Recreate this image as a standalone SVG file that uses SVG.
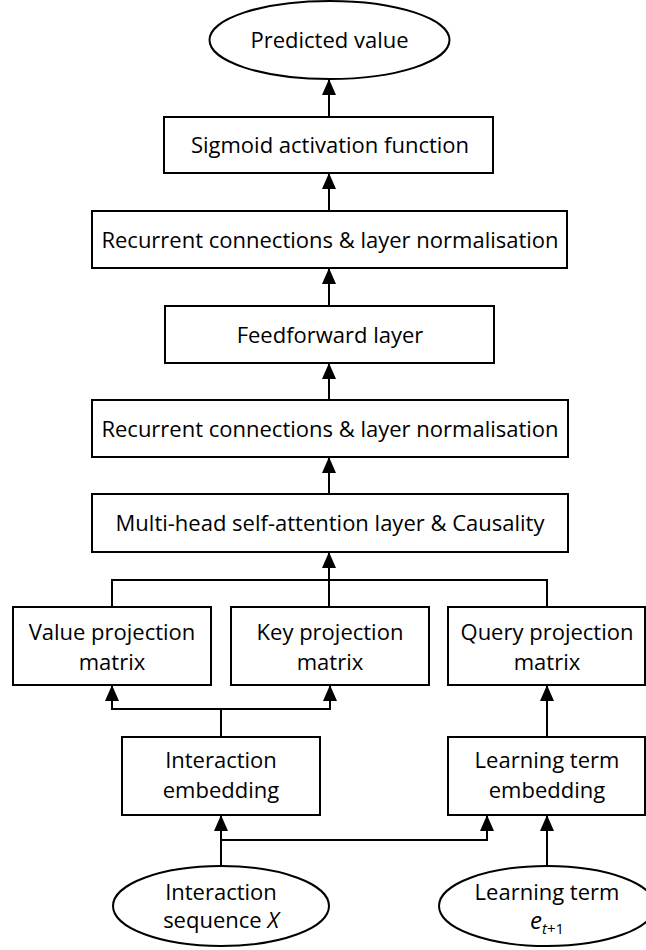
<svg xmlns="http://www.w3.org/2000/svg" width="646" height="950" viewBox="0 0 646 950">
<style>
  .box{fill:#fff;stroke:#000;stroke-width:2}
  .t{font-family:"Open Sans","Noto Sans","Liberation Sans",sans-serif;font-size:22px;fill:#000;text-anchor:middle}
  .c{fill:none;stroke:#000;stroke-width:2}
  .a{fill:none;stroke:#000;stroke-width:2;marker-end:url(#arr)}
</style>
<defs>
  <marker id="arr" markerUnits="userSpaceOnUse" viewBox="0 0 16 14" refX="15" refY="7" markerWidth="16" markerHeight="14" orient="auto">
    <path d="M0,0 L16,7 L0,14 Z" fill="#000"/>
  </marker>
</defs>
<rect width="646" height="950" fill="#fff"/>

<g id="connectors">
  <line class="a" x1="329" y1="117" x2="329" y2="80"/>
  <line class="a" x1="329" y1="211" x2="329" y2="174"/>
  <line class="a" x1="329" y1="306" x2="329" y2="269"/>
  <line class="a" x1="329" y1="400" x2="329" y2="364"/>
  <line class="a" x1="329" y1="494" x2="329" y2="458"/>
  <line class="a" x1="329" y1="580" x2="329" y2="553"/>
  <polyline class="c" points="112,607 112,580 547,580 547,607"/>
  <line class="c" x1="329" y1="580" x2="329" y2="607"/>
  <polyline class="c" points="221,737 221,709"/>
  <polyline class="a" points="221,709 112,709 112,686"/>
  <polyline class="a" points="221,709 330,709 330,686"/>
  <line class="a" x1="547" y1="737" x2="547" y2="686"/>
  <line class="a" x1="221" y1="866" x2="221" y2="816"/>
  <polyline class="a" points="221,840 487,840 487,816"/>
  <line class="a" x1="547" y1="866" x2="547" y2="816"/>
</g>

<g id="predicted">
  <ellipse class="box" cx="329.5" cy="40" rx="120" ry="39"/>
  <text class="t" x="329.5" y="48">Predicted value</text>
</g>
<g id="sigmoid">
  <rect class="box" x="164" y="117" width="329" height="56"/>
  <text class="t" x="330" y="153">Sigmoid activation function</text>
</g>
<g id="recurrent1">
  <rect class="box" x="92" y="211" width="475" height="57"/>
  <text class="t" x="330" y="248">Recurrent connections &amp; layer normalisation</text>
</g>
<g id="feedforward">
  <rect class="box" x="165" y="306" width="329" height="57"/>
  <text class="t" x="330" y="343">Feedforward layer</text>
</g>
<g id="recurrent2">
  <rect class="box" x="92" y="400" width="476" height="57"/>
  <text class="t" x="330" y="437">Recurrent connections &amp; layer normalisation</text>
</g>
<g id="multihead">
  <rect class="box" x="92" y="494" width="476" height="58"/>
  <text class="t" x="330" y="531">Multi-head self-attention layer &amp; Causality</text>
</g>
<g id="value">
  <rect class="box" x="13" y="607" width="198" height="78"/>
  <text class="t" x="112" y="640">Value projection</text>
  <text class="t" x="112" y="670">matrix</text>
</g>
<g id="key">
  <rect class="box" x="231" y="607" width="198" height="78"/>
  <text class="t" x="330" y="640">Key projection</text>
  <text class="t" x="330" y="670">matrix</text>
</g>
<g id="query">
  <rect class="box" x="448" y="607" width="197" height="78"/>
  <text class="t" x="547" y="640">Query projection</text>
  <text class="t" x="547" y="670">matrix</text>
</g>
<g id="interaction-embedding">
  <rect class="box" x="122" y="737" width="198" height="78"/>
  <text class="t" x="221" y="768">Interaction</text>
  <text class="t" x="221" y="798">embedding</text>
</g>
<g id="learning-embedding">
  <rect class="box" x="448" y="737" width="197" height="78"/>
  <text class="t" x="547" y="768">Learning term</text>
  <text class="t" x="547" y="798">embedding</text>
</g>
<g id="interaction-sequence">
  <ellipse class="box" cx="221" cy="906" rx="108" ry="40"/>
  <text class="t" x="221" y="900">Interaction</text>
  <text class="t" x="221" y="928">sequence <tspan font-style="italic">X</tspan></text>
</g>
<g id="learning-term">
  <ellipse class="box" cx="547" cy="906" rx="108" ry="40"/>
  <text class="t" x="547" y="900">Learning term</text>
  <text class="t" x="547" y="929"><tspan font-style="italic" font-size="24">e</tspan><tspan font-size="15" dy="5"><tspan font-style="italic">t</tspan>+1</tspan></text>
</g>
</svg>
